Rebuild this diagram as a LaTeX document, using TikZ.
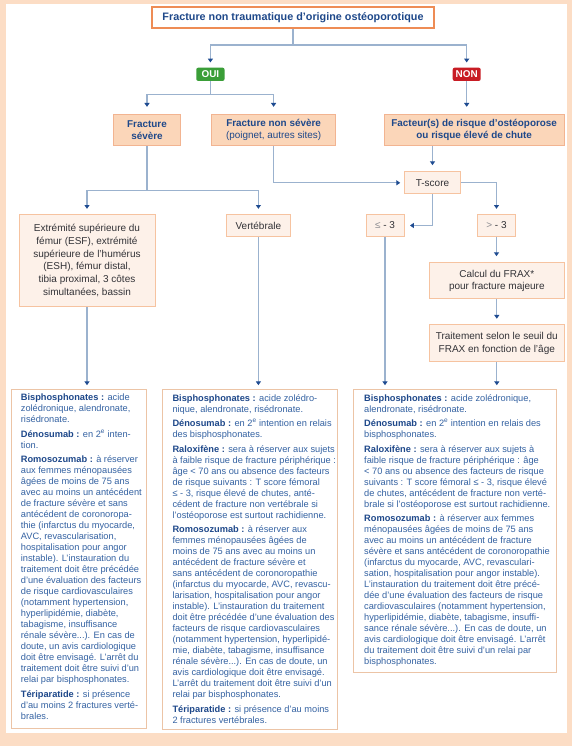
\documentclass[tikz,border=0pt]{standalone}
\usepackage{fontspec}
\setmainfont{Liberation Sans}
\usetikzlibrary{arrows.meta}
\definecolor{bgpeach}{RGB}{252,221,197}
\definecolor{hdr}{RGB}{30,72,138}
\definecolor{bodytxt}{RGB}{52,98,162}
\definecolor{greytxt}{RGB}{50,50,55}
\definecolor{lightgrey}{RGB}{140,140,145}
\definecolor{connline}{RGB}{155,178,206}
\definecolor{arrowblue}{RGB}{30,75,145}
\definecolor{titleborder}{RGB}{238,140,85}
\definecolor{darkfill}{RGB}{251,214,185}
\definecolor{darkborder}{RGB}{242,180,145}
\definecolor{lightfill}{RGB}{253,241,233}
\definecolor{lightborder}{RGB}{246,195,160}
\definecolor{bottomborder}{RGB}{236,196,166}
\definecolor{ouigreen}{RGB}{58,158,56}
\definecolor{nonred}{RGB}{200,28,36}
\newcommand\bl[1]{\textbf{\color{hdr}#1}}
\newcommand\hdrfont{\bfseries\fontsize{9.9}{12.7}\selectfont}
\newcommand\boxfont{\fontsize{10}{12.7}\selectfont}
\newcommand\botfont{\fontsize{9.25}{11}\selectfont}
\begin{document}
\begin{tikzpicture}[x=1pt,y=-1pt,
  titlebox/.style={draw=titleborder, fill=white, line width=1.3pt, inner sep=0pt, font=\bfseries\fontsize{10.8}{13}\selectfont, text=hdr},
  darkbox/.style={draw=darkborder, fill=darkfill, line width=1pt, inner sep=0pt, align=center, font=\hdrfont, text=hdr},
  lightbox/.style={draw=lightborder, fill=lightfill, line width=1pt, inner sep=0pt, align=center, font=\boxfont, text=greytxt},
  tagbox/.style={rounded corners=2pt, inner sep=0pt, font=\bfseries\fontsize{9.9}{12}\selectfont, text=white},
  botbox/.style={draw=bottomborder, fill=white, line width=1pt, inner sep=0pt},
  bottext/.style={anchor=north west, inner sep=0pt, align=left, font=\botfont, text=bodytxt},
  plain/.style={draw=connline, line width=1.3pt},
  conn/.style={draw=connline, line width=1.3pt, shorten >=5pt, -{Triangle[width=5pt,length=3.8pt,color=arrowblue]}}
]
\useasboundingbox (0,0) rectangle (572,746);
\fill[bgpeach] (0,0) rectangle (572,746);
\fill[white] (6,4) rectangle (567,733);

% top
\node[titlebox, minimum width=282pt, minimum height=21pt] (title) at (293,17.5) {Fracture non traumatique d’origine ostéoporotique};
\node[tagbox, fill=ouigreen, minimum width=28.3pt, minimum height=13.3pt] (oui) at (210.4,74.3) {OUI};
\node[tagbox, fill=nonred, minimum width=28pt, minimum height=13.3pt] (non) at (466.7,74.3) {NON};

\node[darkbox, minimum width=67.7pt, minimum height=31.4pt] (sev) at (147,130) {Fracture\\sévère};
\node[darkbox, minimum width=124.3pt, minimum height=31.4pt] (nonsev) at (273.6,130) {Fracture non sévère\\\mdseries(poignet, autres sites)};
\node[darkbox, minimum width=180.3pt, minimum height=31.4pt] (fact) at (474.2,130) {Facteur(s) de risque d’ostéoporose\\ou risque élevé de chute};

\node[lightbox, minimum width=56.4pt, minimum height=22.3pt] (tscore) at (432.5,182.8) {T-score};
\node[lightbox, minimum width=136pt, minimum height=92.4pt] (ext) at (87,260.5) {Extrémité supérieure du\\fémur (ESF), extrémité\\supérieure de l’humérus\\(ESH), fémur distal,\\tibia proximal, 3 côtes\\simultanées, bassin};
\node[lightbox, minimum width=64.7pt, minimum height=22.4pt] (vert) at (258.4,225.5) {Vertébrale};
\node[lightbox, minimum width=38pt, minimum height=22.4pt] (le3) at (385,225.5) {{\color{lightgrey}≤} - 3};
\node[lightbox, minimum width=38.3pt, minimum height=22.4pt] (gt3) at (496.5,225.5) {{\color{lightgrey}>} - 3};
\node[lightbox, minimum width=135pt, minimum height=36.3pt] (frax) at (496.8,280.8) {Calcul du FRAX*\\pour fracture majeure};
\node[lightbox, minimum width=135pt, minimum height=36.7pt] (trait) at (496.8,343.3) {Traitement selon le seuil du\\FRAX en fonction de l’âge};

% bottom boxes
\node[botbox, minimum width=135pt, minimum height=339pt] (b1) at (79.2,558.5) {};
\node[botbox, minimum width=175.3pt, minimum height=340pt] (b2) at (250.3,559) {};
\node[botbox, minimum width=202.7pt, minimum height=283pt] (b3) at (455.3,530.5) {};

\node[bottext] (t1) at (20.7,394) {\bl{Bisphosphonates :} acide\\
zolédronique, alendronate,\\
risédronate.\\[3.5pt]
\bl{Dénosumab :} en 2\textsuperscript{e} inten-\\
tion.\\[3.5pt]
\bl{Romosozumab :} à réserver\\
aux femmes ménopausées\\
âgées de moins de 75 ans\\
avec au moins un antécédent\\
de fracture sévère et sans\\
antécédent de coronoropa-\\
thie (infarctus du myocarde,\\
AVC, revascularisation,\\
hospitalisation pour angor\\
instable). L’instauration du\\
traitement doit être précédée\\
d’une évaluation des facteurs\\
de risque cardiovasculaires\\
(notamment hypertension,\\
hyperlipidémie, diabète,\\
tabagisme, insuffisance\\
rénale sévère...). En cas de\\
doute, un avis cardiologique\\
doit être envisagé. L’arrêt du\\
traitement doit être suivi d’un\\
relai par bisphosphonates.\\[3.5pt]
\bl{Tériparatide :} si présence\\
d’au moins 2 fractures verté-\\
brales.};

\node[bottext] (t2) at (172.3,394) {\bl{Bisphosphonates :} acide zolédro-\\
nique, alendronate, risédronate.\\[3.5pt]
\bl{Dénosumab :} en 2\textsuperscript{e} intention en relais\\
des bisphosphonates.\\[3.5pt]
\bl{Raloxifène :} sera à réserver aux sujets\\
à faible risque de fracture périphérique :\\
âge < 70 ans ou absence des facteurs\\
de risque suivants : T score fémoral\\
≤ - 3, risque élevé de chutes, anté-\\
cédent de fracture non vertébrale si\\
l’ostéoporose est surtout rachidienne.\\[3.5pt]
\bl{Romosozumab :} à réserver aux\\
femmes ménopausées âgées de\\
moins de 75 ans avec au moins un\\
antécédent de fracture sévère et\\
sans antécédent de coronoropathie\\
(infarctus du myocarde, AVC, revascu-\\
larisation, hospitalisation pour angor\\
instable). L’instauration du traitement\\
doit être précédée d’une évaluation des\\
facteurs de risque cardiovasculaires\\
(notamment hypertension, hyperlipidé-\\
mie, diabète, tabagisme, insuffisance\\
rénale sévère...). En cas de doute, un\\
avis cardiologique doit être envisagé.\\
L’arrêt du traitement doit être suivi d’un\\
relai par bisphosphonates.\\[3.5pt]
\bl{Tériparatide :} si présence d’au moins\\
2 fractures vertébrales.};

\node[bottext] (t3) at (364,394) {\bl{Bisphosphonates :} acide zolédronique,\\
alendronate, risédronate.\\[3.5pt]
\bl{Dénosumab :} en 2\textsuperscript{e} intention en relais des\\
bisphosphonates.\\[3.5pt]
\bl{Raloxifène :} sera à réserver aux sujets à\\
faible risque de fracture périphérique : âge\\
< 70 ans ou absence des facteurs de risque\\
suivants : T score fémoral ≤ - 3, risque élevé\\
de chutes, antécédent de fracture non verté-\\
brale si l’ostéoporose est surtout rachidienne.\\[3.5pt]
\bl{Romosozumab :} à réserver aux femmes\\
ménopausées âgées de moins de 75 ans\\
avec au moins un antécédent de fracture\\
sévère et sans antécédent de coronoropathie\\
(infarctus du myocarde, AVC, revasculari-\\
sation, hospitalisation pour angor instable).\\
L’instauration du traitement doit être précé-\\
dée d’une évaluation des facteurs de risque\\
cardiovasculaires (notamment hypertension,\\
hyperlipidémie, diabète, tabagisme, insuffi-\\
sance rénale sévère...). En cas de doute, un\\
avis cardiologique doit être envisagé. L’arrêt\\
du traitement doit être suivi d’un relai par\\
bisphosphonates.};

% connectors
\coordinate (j1) at (293,45);
\coordinate (j2) at (210.4,94.3);
\coordinate (j3) at (147,190.7);
\draw[plain] (title.south) -- (j1);
\draw[conn] (j1) -| (oui.north);
\draw[conn] (j1) -| (non.north);
\draw[plain] (oui.south) -- (j2);
\draw[conn, shorten >=7pt] (j2) -| (sev.north);
\draw[conn, shorten >=7pt] (j2) -| (nonsev.north);
\draw[conn, shorten >=7pt] (non.south) -- (non.south |- fact.north);
\draw[conn, shorten >=6pt] (tscore.north |- fact.south) -- (tscore.north);
\draw[conn, shorten >=3.6pt] (nonsev.south) |- (tscore.west);
\draw[conn] (tscore.east) -| (gt3.north);
\draw[conn, shorten >=5.5pt] (tscore.south) |- (le3.east);
\draw[plain] (sev.south) -- (j3);
\draw[conn] (j3) -| (ext.north);
\draw[conn] (j3) -| (vert.north);
\draw[conn, shorten >=3.3pt] (ext.south) -- (ext.south |- b1.north);
\draw[conn, shorten >=3.3pt] (vert.south) -- (vert.south |- b2.north);
\draw[conn, shorten >=3.3pt] (le3.south) -- (le3.south |- b3.north);
\draw[conn, shorten >=6pt] (gt3.south) -- (gt3.south |- frax.north);
\draw[conn, shorten >=5.7pt] (frax.south) -- (frax.south |- trait.north);
\draw[conn, shorten >=3.3pt] (trait.south) -- (trait.south |- b3.north);
\end{tikzpicture}
\end{document}
